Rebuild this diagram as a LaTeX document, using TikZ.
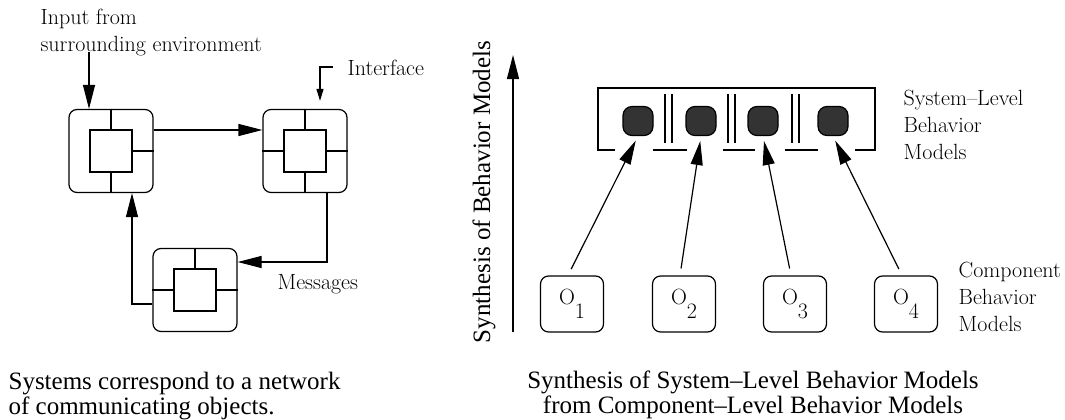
\documentclass[tikz,border=0pt]{standalone}
\usepackage{fontspec}
\newfontfamily\capfont{Liberation Serif}[Ligatures=TeX]
\usetikzlibrary{arrows.meta,positioning}

\begin{document}
\begin{tikzpicture}[x=1pt,y=-1pt,>={Triangle[length=24pt,width=12pt]},line width=1.2pt,font=\fontsize{22}{27}\selectfont]
\tikzstyle{obj}=[draw,rounded corners=8pt,minimum width=84pt,minimum height=83pt,inner sep=0pt]
\tikzstyle{core}=[draw,minimum size=42pt,inner sep=0pt]
\tikzstyle{comp}=[draw,rounded corners=8pt,minimum width=63pt,minimum height=56pt,inner sep=0pt]
\tikzstyle{dotbox}=[draw,fill=black!80,rounded corners=9pt,minimum width=30pt,minimum height=29pt,inner sep=0pt]
\tikzstyle{lbl}=[anchor=west,align=left,inner sep=0pt]
\tikzstyle{captxt}=[font=\capfont\fontsize{25}{25}\selectfont,align=center,inner sep=0pt]
\useasboundingbox (0,0) rectangle (1065,420);

% network of objects
\node[obj] (obj1) at (111,151) {};
\node[core] (core1) at (111,151) {};
\draw (obj1.north) -- (core1.north) (obj1.south) -- (core1.south) (core1.east) -- (obj1.east);
\node[obj] (obj2) at (305,151) {};
\node[core] (core2) at (305,151) {};
\draw (obj2.north) -- (core2.north) (obj2.south) -- (core2.south) (core2.east) -- (obj2.east) (core2.west) -- (obj2.west);
\node[obj] (obj3) at (195,290) {};
\node[core] (core3) at (195,290) {};
\draw (obj3.north) -- (core3.north) (core3.east) -- (obj3.east) (core3.west) -- (obj3.west);

\draw[->] ([yshift=21pt]obj1.east) -- ([yshift=21pt]obj2.west);
\draw[->] ([xshift=22pt]obj2.south) |- ([yshift=28pt]obj3.east);
\draw[->] ([yshift=-14pt]obj3.west) -| ([xshift=21pt]obj1.south);
\coordinate (inp) at (89,52);
\draw[->] (inp) -- (inp |- obj1.north);
\coordinate (ifc) at (333,67);
\draw[->,>={Triangle[length=12pt,width=7pt]}] (ifc) -| ([xshift=15pt,yshift=8pt]obj2.north);

\node[lbl] (inptxt) at (40,33) {Input from\\surrounding environment};
\node[lbl] (ifctxt) at (347,68) {Interface};
\node[lbl] (msgtxt) at (277,284) {Messages};
\node[captxt,anchor=west,align=left] (netcap) at (8,396) {Systems correspond to a network\\of communicating objects.};

% synthesis of behavior models
\coordinate (axbot) at (513,332);
\coordinate (axtop) at (513,55);
\draw[->] (axbot) -- (axtop);
\node[captxt,rotate=90] (axtxt) at (484,192) {Synthesis of Behavior Models};

\draw (615,150) -- (598,150) -- (598,88) -- (875,88) -- (875,150) -- (855,150);
\draw (653,150) -- (687,150) (723,150) -- (755,150) (785,150) -- (818,150);
\foreach \x in {665,728,792}
  \draw (\x,94) -- (\x,143) (\x+7,94) -- (\x+7,143);
\node[dotbox] (d1) at (638,121) {};
\node[dotbox] (d2) at (701,121) {};
\node[dotbox] (d3) at (763,121) {};
\node[dotbox] (d4) at (833,121) {};

\node[comp] (o1) at (572,304) {O\raisebox{-0.65em}{1}};
\node[comp] (o2) at (684,304) {O\raisebox{-0.65em}{2}};
\node[comp] (o3) at (795,304) {O\raisebox{-0.65em}{3}};
\node[comp] (o4) at (906,304) {O\raisebox{-0.65em}{4}};
\foreach \i in {1,...,4}
  \draw[->,shorten <=7pt,shorten >=5pt] ([xshift=-4pt]o\i.north) -- (d\i.south);

\node[lbl] (systxt) at (903,125) {System--Level\\Behavior\\Models};
\node[lbl] (comptxt) at (958,297) {Component\\Behavior\\Models};
\node[captxt] (syncap) at (753,395) {Synthesis of System--Level Behavior Models\\from Component--Level Behavior Models};
\end{tikzpicture}
\end{document}
